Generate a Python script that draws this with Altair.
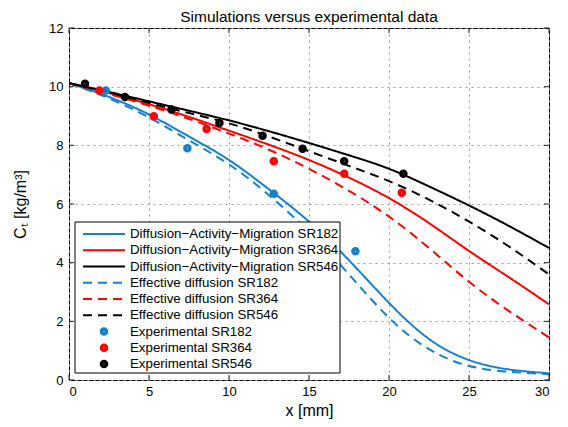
import altair as alt
import pandas as pd

# ---------------- data ----------------
x_sim = [0, 2.5, 5, 7.5, 10, 12.5, 15, 17.5, 20, 22.5, 25, 27.5, 30]
dam_sr182 = [10.12, 9.65, 9.05, 8.3, 7.5, 6.5, 5.4, 4.08, 2.63, 1.4, 0.68, 0.36, 0.23]
dam_sr364 = [10.12, 9.78, 9.4, 8.97, 8.5, 8.02, 7.5, 6.9, 6.2, 5.35, 4.4, 3.5, 2.58]
dam_sr546 = [10.12, 9.82, 9.5, 9.18, 8.85, 8.48, 8.08, 7.66, 7.2, 6.6, 5.95, 5.25, 4.5]
eff_sr182 = [10.12, 9.6, 8.95, 8.17, 7.35, 6.3, 5.05, 3.6, 2.12, 1.05, 0.48, 0.28, 0.2]
eff_sr364 = [10.12, 9.75, 9.35, 8.9, 8.4, 7.85, 7.2, 6.45, 5.57, 4.5, 3.35, 2.35, 1.45]
eff_sr546 = [10.12, 9.8, 9.45, 9.1, 8.75, 8.3, 7.8, 7.3, 6.78, 6.15, 5.4, 4.55, 3.6]

exp_x_sr182 = [2.3, 7.4, 12.8, 17.9]
exp_y_sr182 = [9.87, 7.9, 6.35, 4.39]
exp_x_sr364 = [1.9, 5.3, 8.6, 12.8, 17.2, 20.8]
exp_y_sr364 = [9.87, 8.99, 8.56, 7.46, 7.03, 6.38]
exp_x_sr546 = [1.0, 3.5, 6.4, 9.4, 12.1, 14.6, 17.2, 20.9]
exp_y_sr546 = [10.1, 9.65, 9.22, 8.76, 8.33, 7.88, 7.46, 7.03]

series_names = ["SR182", "SR364", "SR546"]
series_colors = ["#1580CC", "#FF0000", "#000000"]
models = ["Diffusion\u2212Activity\u2212Migration", "Effective diffusion"]

x_ticks = [0, 5, 10, 15, 20, 25, 30]
y_ticks = [0, 2, 4, 6, 8, 10, 12]

legend_labels = [
    "Diffusion\u2212Activity\u2212Migration SR182",
    "Diffusion\u2212Activity\u2212Migration SR364",
    "Diffusion\u2212Activity\u2212Migration SR546",
    "Effective diffusion SR182",
    "Effective diffusion SR364",
    "Effective diffusion SR546",
    "Experimental SR182",
    "Experimental SR364",
    "Experimental SR546",
]

# ---------------- tables ----------------
rows = []
for model, curves in zip(models, [[dam_sr182, dam_sr364, dam_sr546], [eff_sr182, eff_sr364, eff_sr546]]):
    for sr, ys in zip(series_names, curves):
        for xv, yv in zip(x_sim, ys):
            rows.append({"x": xv, "y": yv, "sr": sr, "model": model, "key": model + sr})
lines_df = pd.DataFrame(rows)

prow = []
for sr, xs, ys in zip(series_names,
                      [exp_x_sr182, exp_x_sr364, exp_x_sr546],
                      [exp_y_sr182, exp_y_sr364, exp_y_sr546]):
    for xv, yv in zip(xs, ys):
        prow.append({"x": xv, "y": yv, "sr": sr})
pts_df = pd.DataFrame(prow)

W, H = 480, 352
FONT = "Liberation Sans"

xs = alt.Scale(domain=[0, 30], nice=False, zero=False)
ys_ = alt.Scale(domain=[0, 12], nice=False, zero=False)
col_scale = alt.Scale(domain=series_names, range=series_colors)

lines = alt.Chart(lines_df).mark_line(strokeWidth=2, interpolate="natural", clip=True).encode(
    x=alt.X("x:Q", scale=xs,
            axis=alt.Axis(values=x_ticks, title="x [mm]", grid=True, ticks=False, domain=False,
                          labelPadding=5, titlePadding=4)),
    y=alt.Y("y:Q", scale=ys_,
            axis=alt.Axis(values=y_ticks, title="C\u209c [kg/m\u00b3]", grid=True, ticks=False,
                          domain=False, labelPadding=6, titlePadding=20)),
    color=alt.Color("sr:N", scale=col_scale, legend=None),
    strokeDash=alt.StrokeDash("model:N", scale=alt.Scale(domain=models, range=[[1, 0], [9, 6]]),
                              legend=None),
    detail="key:N",
)

PT = dict(shape="circle", filled=False, strokeWidth=3.8, size=22, opacity=1)
points = alt.Chart(pts_df).mark_point(**PT).encode(
    x=alt.X("x:Q", scale=xs),
    y=alt.Y("y:Q", scale=ys_),
    color=alt.Color("sr:N", scale=col_scale, legend=None),
)

xt_df = pd.DataFrame({"t": x_ticks})
yt_df = pd.DataFrame({"t": y_ticks})
tick_style = dict(color="#222222", strokeWidth=1)
xt_bottom = alt.Chart(xt_df).mark_rule(**tick_style).encode(
    x=alt.X("t:Q", scale=xs), y=alt.value(H), y2=alt.value(H - 5))
xt_top = alt.Chart(xt_df).mark_rule(**tick_style).encode(
    x=alt.X("t:Q", scale=xs), y=alt.value(0), y2=alt.value(5))
yt_left = alt.Chart(yt_df).mark_rule(**tick_style).encode(
    y=alt.Y("t:Q", scale=ys_), x=alt.value(0), x2=alt.value(5))
yt_right = alt.Chart(yt_df).mark_rule(**tick_style).encode(
    y=alt.Y("t:Q", scale=ys_), x=alt.value(W), x2=alt.value(W - 5))

# ---------------- legend (manual, inside plot) ----------------
one = pd.DataFrame({"a": [0]})
LX0, LX1, LY0, LY1 = 6, 271, 194, 345
ROW0, ROWH = 206, 16.25
SYM0, SYM1, TXT = 14, 56, 61

legend_layers = [
    alt.Chart(one).mark_rect(fill="white", stroke="black", strokeWidth=1).encode(
        x=alt.value(LX0), x2=alt.value(LX1), y=alt.value(LY0), y2=alt.value(LY1))
]
for i, lab in enumerate(legend_labels):
    yy = ROW0 + i * ROWH
    col = series_colors[i % 3]
    if i < 6:
        dash = [1, 0] if i < 3 else [9, 6]
        legend_layers.append(
            alt.Chart(one).mark_rule(strokeWidth=2, color=col, strokeDash=dash).encode(
                x=alt.value(SYM0), x2=alt.value(SYM1), y=alt.value(yy)))
    else:
        legend_layers.append(
            alt.Chart(one).mark_point(color=col, **PT).encode(
                x=alt.value((SYM0 + SYM1) / 2), y=alt.value(yy)))
    legend_layers.append(
        alt.Chart(one).mark_text(text=lab, align="left", baseline="middle", font=FONT,
                                 fontSize=13.3, color="black").encode(
            x=alt.value(TXT), y=alt.value(yy)))

chart = alt.layer(lines, points, xt_bottom, xt_top, yt_left, yt_right, *legend_layers).properties(
    width=W, height=H,
    title=alt.TitleParams("Simulations versus experimental data", font=FONT, fontSize=15.5,
                          fontWeight="normal", color="black", offset=-3),
    autosize=alt.AutoSizeParams(type="none"),
    padding={"left": 61, "top": 20, "right": 11, "bottom": 39},
).configure_view(stroke="black", strokeWidth=1).configure_axis(
    labelFont=FONT, labelFontSize=13, labelColor="black",
    titleFont=FONT, titleFontSize=16, titleFontWeight="normal", titleColor="black",
    gridColor="#9a9a9a", gridDash=[2, 4], gridWidth=1, gridOpacity=1,
).configure_text(font=FONT)

chart.save("out.html", embed_options={"renderer": "svg", "actions": False})
